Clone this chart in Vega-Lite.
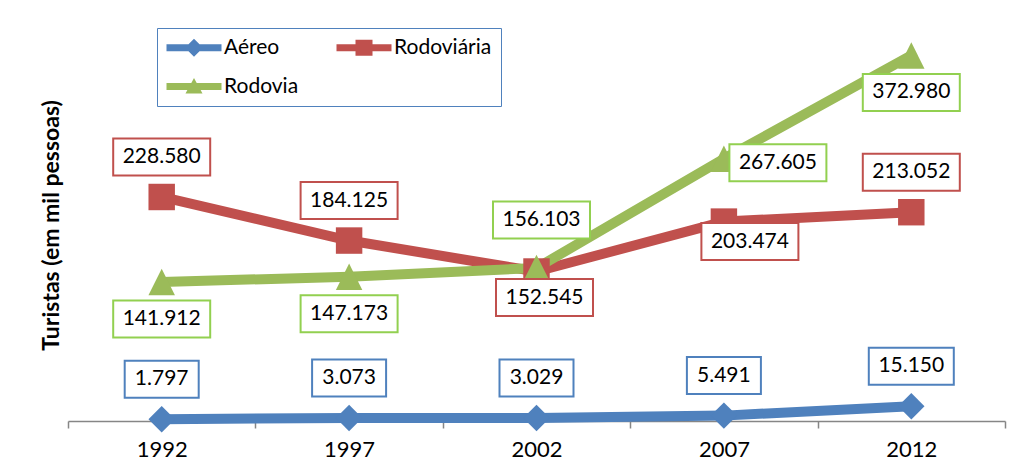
{
  "$schema": "https://vega.github.io/schema/vega-lite/v6.json",
  "autosize": {"type": "none"},
  "padding": {"left": 68, "top": 29, "right": 7, "bottom": 52},
  "width": 937,
  "height": 392,
  "background": "white",
  "config": {
    "font": "Lato",
    "view": {"stroke": null},
    "locale": {"number": {"decimal": ",", "thousands": ".", "grouping": [3], "currency": ["R$", ""]}}
  },
  "data": {
    "values": [
      {"ano": "1992", "serie": "Aéreo", "turistas": 1797},
      {"ano": "1997", "serie": "Aéreo", "turistas": 3073},
      {"ano": "2002", "serie": "Aéreo", "turistas": 3029},
      {"ano": "2007", "serie": "Aéreo", "turistas": 5491},
      {"ano": "2012", "serie": "Aéreo", "turistas": 15150},
      {"ano": "1992", "serie": "Rodoviária", "turistas": 228580},
      {"ano": "1997", "serie": "Rodoviária", "turistas": 184125},
      {"ano": "2002", "serie": "Rodoviária", "turistas": 152545},
      {"ano": "2007", "serie": "Rodoviária", "turistas": 203474},
      {"ano": "2012", "serie": "Rodoviária", "turistas": 213052},
      {"ano": "1992", "serie": "Rodovia", "turistas": 141912},
      {"ano": "1997", "serie": "Rodovia", "turistas": 147173},
      {"ano": "2002", "serie": "Rodovia", "turistas": 156103},
      {"ano": "2007", "serie": "Rodovia", "turistas": 267605},
      {"ano": "2012", "serie": "Rodovia", "turistas": 372980}
    ]
  },
  "encoding": {
    "x": {
      "field": "ano", "type": "ordinal",
      "scale": {"paddingInner": 0, "paddingOuter": 0},
      "axis": {
        "title": null, "labelAngle": 0, "tickBand": "extent",
        "domainColor": "#868686", "domainWidth": 1.5, "tickColor": "#868686", "tickWidth": 1.5, "tickSize": 7,
        "labelFont": "Lato", "labelFontSize": 22, "labelColor": "black", "labelPadding": 11
      }
    },
    "y": {
      "field": "turistas", "type": "quantitative",
      "scale": {"domain": [0, 400000], "nice": false},
      "axis": {
        "title": "Turistas (em mil pessoas)", "labels": false, "ticks": false, "domain": false, "grid": false,
        "titleFont": "Lato", "titleFontSize": 23, "titleFontWeight": "bold", "titleColor": "black", "titlePadding": 5
      }
    }
  },
  "layer": [
    {
      "mark": {"type": "line", "strokeWidth": 10, "strokeJoin": "round"},
      "encoding": {
        "detail": {"field": "serie", "type": "nominal"},
        "stroke": {"condition": [{"test": "datum.serie === 'Aéreo'", "value": "#4F81BD"}, {"test": "datum.serie === 'Rodoviária'", "value": "#C0504D"}], "value": "#9BBB59"}
      }
    },
    {
      "mark": {"type": "point", "filled": true, "opacity": 1, "size": 700},
      "encoding": {
        "shape": {"condition": [{"test": "datum.serie === 'Aéreo'", "value": "diamond"}, {"test": "datum.serie === 'Rodoviária'", "value": "square"}], "value": "M0,-1L1,1L-1,1Z"},
        "color": {"condition": [{"test": "datum.serie === 'Aéreo'", "value": "#4F81BD"}, {"test": "datum.serie === 'Rodoviária'", "value": "#C0504D"}], "value": "#9BBB59"}
      }
    },
    {
      "transform": [{"filter": "datum.turistas < 0"}],
      "mark": {"type": "point", "filled": true, "opacity": 1, "size": 400},
      "encoding": {
        "shape": {
          "field": "serie", "type": "nominal",
          "scale": {"domain": ["Aéreo", "Rodoviária", "Rodovia"], "range": [
            "M-1,-0.35H1.2L1.75,-0.9L2.3,-0.35H4.5V0.35H2.3L1.75,0.9L1.2,0.35H-1Z",
            "M-1,-0.35H0.9V-0.8H2.6V-0.35H4.5V0.35H2.6V0.8H0.9V0.35H-1Z",
            "M-1,-0.35H1.48L1.75,-0.85L2.02,-0.35H4.5V0.35H2.41L2.6,0.7H0.9L1.09,0.35H-1Z"
          ]}
        },
        "color": {
          "field": "serie", "type": "nominal",
          "scale": {"domain": ["Aéreo", "Rodoviária", "Rodovia"], "range": ["#4F81BD", "#C0504D", "#9BBB59"]},
          "legend": {
            "title": null, "orient": "none", "legendX": 89, "legendY": -1,
            "columns": 2, "direction": "horizontal",
            "symbolSize": 400, "symbolStrokeWidth": 0, "symbolOpacity": 1,
            "labelFont": "Lato", "labelFontSize": 21, "labelColor": "black", "labelOffset": 37,
            "strokeColor": "#4F81BD", "fillColor": "white", "padding": 9,
            "columnPadding": 37, "rowPadding": 17
          }
        }
      }
    },
    {
      "transform": [{"filter": "datum.serie === 'Aéreo' || (datum.serie === 'Rodoviária' && datum.ano !== '2002' && datum.ano !== '2007')"}],
      "layer": [
        {
          "mark": {"type": "point", "fill": "white", "strokeWidth": 2, "opacity": 1, "size": 400, "yOffset": -40},
          "encoding": {
            "shape": {"condition": [{"test": "datum.turistas < 10000", "value": "M-3.7,-1.85H3.7V1.85H-3.7Z"}, {"test": "datum.turistas < 100000", "value": "M-4.25,-1.85H4.25V1.85H-4.25Z"}], "value": "M-4.85,-1.85H4.85V1.85H-4.85Z"},
            "stroke": {"condition": [{"test": "datum.serie === 'Aéreo'", "value": "#4F81BD"}, {"test": "datum.serie === 'Rodoviária'", "value": "#C0504D"}], "value": "#92D050"}
          }
        },
        {
          "mark": {"type": "text", "font": "Lato", "fontSize": 21, "color": "black", "align": "center", "baseline": "middle", "yOffset": -40},
          "encoding": {"text": {"field": "turistas", "type": "quantitative", "format": ",d"}}
        }
      ]
    },
    {
      "transform": [{"filter": "datum.serie === 'Rodovia' && datum.ano !== '2002' && datum.ano !== '2007'"}],
      "layer": [
        {
          "mark": {"type": "point", "fill": "white", "stroke": "#92D050", "strokeWidth": 2, "opacity": 1, "size": 400, "yOffset": 37, "shape": "M-4.85,-1.85H4.85V1.85H-4.85Z"},
          "encoding": {}
        },
        {
          "mark": {"type": "text", "font": "Lato", "fontSize": 21, "color": "black", "align": "center", "baseline": "middle", "yOffset": 37},
          "encoding": {"text": {"field": "turistas", "type": "quantitative", "format": ",d"}}
        }
      ]
    },
    {
      "transform": [{"filter": "datum.serie === 'Rodoviária' && datum.ano === '2002'"}],
      "layer": [
        {
          "mark": {"type": "point", "fill": "white", "stroke": "#C0504D", "strokeWidth": 2, "opacity": 1, "size": 400, "xOffset": 8, "yOffset": 26, "shape": "M-4.85,-1.85H4.85V1.85H-4.85Z"},
          "encoding": {}
        },
        {
          "mark": {"type": "text", "font": "Lato", "fontSize": 21, "color": "black", "align": "center", "baseline": "middle", "xOffset": 8, "yOffset": 26},
          "encoding": {"text": {"field": "turistas", "type": "quantitative", "format": ",d"}}
        }
      ]
    },
    {
      "transform": [{"filter": "datum.serie === 'Rodoviária' && datum.ano === '2007'"}],
      "layer": [
        {
          "mark": {"type": "point", "fill": "white", "stroke": "#C0504D", "strokeWidth": 2, "opacity": 1, "size": 400, "xOffset": 26, "yOffset": 20, "shape": "M-4.85,-1.85H4.85V1.85H-4.85Z"},
          "encoding": {}
        },
        {
          "mark": {"type": "text", "font": "Lato", "fontSize": 21, "color": "black", "align": "center", "baseline": "middle", "xOffset": 26, "yOffset": 20},
          "encoding": {"text": {"field": "turistas", "type": "quantitative", "format": ",d"}}
        }
      ]
    },
    {
      "transform": [{"filter": "datum.serie === 'Rodovia' && datum.ano === '2002'"}],
      "layer": [
        {
          "mark": {"type": "point", "fill": "white", "stroke": "#92D050", "strokeWidth": 2, "opacity": 1, "size": 400, "xOffset": 5, "yOffset": -48, "shape": "M-4.85,-1.85H4.85V1.85H-4.85Z"},
          "encoding": {}
        },
        {
          "mark": {"type": "text", "font": "Lato", "fontSize": 21, "color": "black", "align": "center", "baseline": "middle", "xOffset": 5, "yOffset": -48},
          "encoding": {"text": {"field": "turistas", "type": "quantitative", "format": ",d"}}
        }
      ]
    },
    {
      "transform": [{"filter": "datum.serie === 'Rodovia' && datum.ano === '2007'"}],
      "layer": [
        {
          "mark": {"type": "point", "fill": "white", "stroke": "#92D050", "strokeWidth": 2, "opacity": 1, "size": 400, "xOffset": 54, "yOffset": 4, "shape": "M-4.85,-1.85H4.85V1.85H-4.85Z"},
          "encoding": {}
        },
        {
          "mark": {"type": "text", "font": "Lato", "fontSize": 21, "color": "black", "align": "center", "baseline": "middle", "xOffset": 54, "yOffset": 4},
          "encoding": {"text": {"field": "turistas", "type": "quantitative", "format": ",d"}}
        }
      ]
    }
  ]
}
